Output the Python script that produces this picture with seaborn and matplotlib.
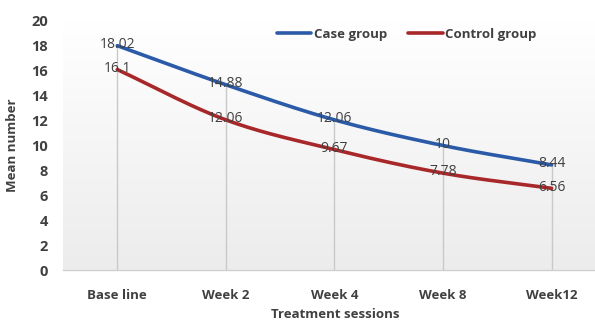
import numpy as np
import pandas as pd
import matplotlib
matplotlib.use("Agg")
import matplotlib.pyplot as plt
import seaborn as sns

sessions = ["Base line", "Week 2", "Week 4", "Week 8", "Week12"]
case_group = [18.02, 14.88, 12.06, 10, 8.44]
control_group = [16.1, 12.06, 9.67, 7.78, 6.56]
case_labels = ["18.02", "14.88", "12.06", "10", "8.44"]
control_labels = ["16.1", "12.06", "9.67", "7.78", "6.56"]
y_ticks = [0, 2, 4, 6, 8, 10, 12, 14, 16, 18, 20]

sns.set_theme(style="white")
plt.rcParams["font.family"] = ["Open Sans", "DejaVu Sans"]

BLUE = "#2B5BA8"
RED = "#A8282A"
TICK = "#404040"


def smooth(xs, ys, n=40):
    """Catmull-Rom curve through the points, similar to a smoothed line."""
    xs = np.asarray(xs, float)
    ys = np.asarray(ys, float)
    px = np.concatenate([[2 * xs[0] - xs[1]], xs, [2 * xs[-1] - xs[-2]]])
    py = np.concatenate([[2 * ys[0] - ys[1]], ys, [2 * ys[-1] - ys[-2]]])
    out_x, out_y = [], []
    t = np.linspace(0, 1, n)
    for i in range(1, len(px) - 2):
        for arr, out in ((px, out_x), (py, out_y)):
            p0, p1, p2, p3 = arr[i - 1], arr[i], arr[i + 1], arr[i + 2]
            seg = 0.5 * ((2 * p1) + (-p0 + p2) * t
                         + (2 * p0 - 5 * p1 + 4 * p2 - p3) * t ** 2
                         + (-p0 + 3 * p1 - 3 * p2 + p3) * t ** 3)
            out.extend(seg if not out else seg[1:])
    return np.array(out_x), np.array(out_y)


fig = plt.figure(figsize=(5.95, 3.22), dpi=100)
ax = fig.add_axes([63 / 595, 1 - 270 / 322, (595 - 63) / 595, (270 - 21) / 322])

x_pos = np.arange(len(sessions))
ax.set_xlim(-0.5, 4.4)
ax.set_ylim(0, 20)

# soft vertical gradient behind the plot area: white on top, light grey at the bottom
grad = np.linspace(0.0, 1.0, 256).reshape(-1, 1)
cmap = matplotlib.colors.LinearSegmentedColormap.from_list("bg", ["#ececec", "#ffffff"])
ax.imshow(grad, extent=(-0.5, 4.4, 0, 20), aspect="auto", cmap=cmap,
          origin="lower", zorder=0, interpolation="bicubic")

# drop lines from the highest point of each category
tops = np.maximum(case_group, control_group)
ax.vlines(x_pos, 0, tops, color="#c9c9c9", lw=1.0, zorder=1)

rows = []
for name, vals in (("Case group", case_group), ("Control group", control_group)):
    sx, sy = smooth(x_pos, vals)
    rows.append(pd.DataFrame({"x": sx, "y": sy, "group": name}))
df = pd.concat(rows, ignore_index=True)
sns.lineplot(data=df, x="x", y="y", hue="group", palette=[BLUE, RED],
             lw=2.6, sort=False, estimator=None, ax=ax, zorder=3)

for vals, labels in ((case_group, case_labels), (control_group, control_labels)):
    for xi, v, lab in zip(x_pos, vals, labels):
        ax.text(xi, v + 0.1, lab, ha="center", va="center", fontsize=10,
                color="#404040", zorder=4)

ax.set_xticks(x_pos)
ax.set_xticklabels(sessions, fontsize=9.5, fontweight="bold", color=TICK)
ax.set_yticks(y_ticks)
ax.set_yticklabels([str(v) for v in y_ticks], fontsize=10.5, fontweight="bold", color=TICK)
ax.tick_params(axis="x", length=0, pad=14)
ax.tick_params(axis="y", length=0, pad=11)
ax.set_xlabel("Treatment sessions", fontsize=9.5, fontweight="bold", color=TICK)
ax.xaxis.set_label_coords((335 - 63) / 532, -(308 - 270) / 249)
ax.set_ylabel("Mean number", fontsize=9.5, fontweight="bold", color=TICK)
ax.yaxis.set_label_coords(-(63 - 19) / 532, 0.5)

for side in ("top", "right", "left"):
    ax.spines[side].set_visible(False)
ax.spines["bottom"].set_color("#cfcfcf")
ax.spines["bottom"].set_linewidth(1.0)

leg = ax.legend(loc="upper left", bbox_to_anchor=(0.38, 1.02), ncol=2, frameon=False,
                fontsize=9.5, handlelength=2.6, handletextpad=0.2, columnspacing=1.6)
for t in leg.get_texts():
    t.set_fontweight("bold")
    t.set_color(TICK)

fig.savefig("out.png", dpi=100)
